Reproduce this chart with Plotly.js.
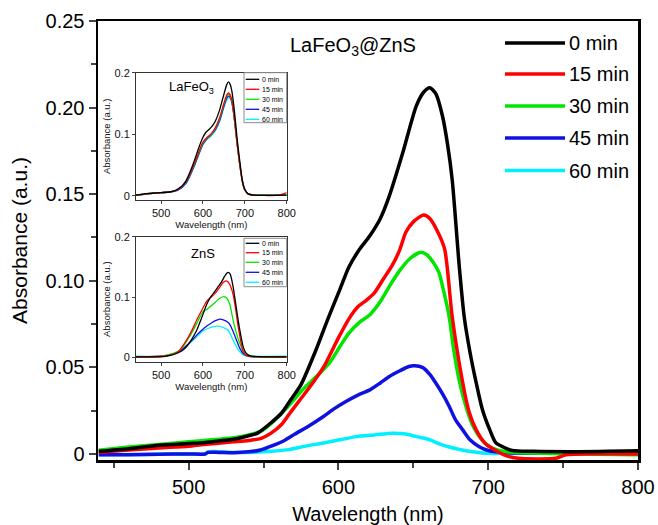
<!DOCTYPE html>
<html><head><meta charset="utf-8">
<script src="https://cdn.plot.ly/plotly-3.0.1.min.js"></script>
<style>html,body{margin:0;padding:0;background:#fff}</style>
</head><body><div id="chart" style="width:658px;height:525px"></div>
<script>
// ---------- data ----------
const seriesNames = ['0 min','15 min','30 min','45 min','60 min'];
const seriesColors = ['#000000','#ff0000','#00e600','#1010e0','#00f0ff'];

// main panel: LaFeO3@ZnS
const mainWl0 = [440,460,480,500,510,520,530,540,546,555,562,568,575,585,593,601,607,614,621,628,634,643,652,657,661,665,669.5,673,676,680.7,684,688,692,696,701,705,710,716,730,760,800];
const mainAbs0 = [0.0015,0.003,0.005,0.006,0.0065,0.0075,0.0085,0.0105,0.012,0.018,0.0235,0.031,0.040,0.060,0.078,0.095,0.108,0.118,0.126,0.136,0.149,0.174,0.201,0.209,0.2115,0.208,0.195,0.178,0.158,0.108,0.079,0.058,0.041,0.026,0.014,0.0065,0.004,0.002,0.0015,0.0013,0.0018];
const mainWl1 = [440,460,480,500,510,520,530,540,548,555,562,568,575,582,590,600,607,613,619,624,630,636,641,645,650,657,661,667,671,676,683,687,692,698,705,712,720,745,752,800];
const mainAbs1 = [0.001,0.0023,0.0035,0.0045,0.0055,0.0062,0.007,0.0078,0.0088,0.012,0.017,0.024,0.032,0.040,0.050,0.067,0.078,0.085,0.089,0.093,0.101,0.109,0.118,0.128,0.134,0.138,0.136,0.127,0.118,0.079,0.041,0.025,0.0139,0.006,0.002,-0.001,-0.0025,-0.0025,-0.0005,0.0];
const mainWl2 = [440,460,480,500,510,520,530,540,548,555,562,568,575,582,588,594,601,607,614,621,628,634,641,648,655,659,663,667,670,674,677,681,686,690,695,701,710,730,800];
const mainAbs2 = [0.0022,0.004,0.0055,0.007,0.0078,0.0085,0.0093,0.011,0.013,0.0175,0.0235,0.029,0.036,0.042,0.047,0.0525,0.062,0.0698,0.076,0.0804,0.088,0.0968,0.106,0.113,0.1164,0.115,0.111,0.105,0.095,0.079,0.060,0.041,0.025,0.0158,0.009,0.0042,0.0015,0.0005,-0.0005];
const mainWl3 = [440,460,480,500,511,513,520,530,540,548,556,564,571,580,590,597,605,613,621,628,634,641,647,651,656,661,665,670,674,678,683,688,694,700,705,720,800];
const mainAbs3 = [-0.0005,-0.0004,-0.0002,0.0,0.0,0.0009,0.0009,0.0007,0.0012,0.0023,0.0048,0.0078,0.0115,0.016,0.0216,0.026,0.0303,0.034,0.037,0.041,0.0447,0.048,0.0505,0.0509,0.050,0.046,0.041,0.034,0.0274,0.020,0.0139,0.008,0.0042,0.002,0.0013,0.0005,0.0005];
const mainWl4 = [440,460,480,500,511,513,530,545,555,567,578,590,600,612,624,636,645,652,660,667,674,680,687,696,710,750,800];
const mainAbs4 = [-0.0004,-0.0003,-0.0002,0.0,0.0,0.0012,0.0009,0.001,0.0015,0.0025,0.0045,0.0063,0.008,0.010,0.011,0.012,0.0115,0.010,0.0085,0.006,0.004,0.0028,0.0015,0.0005,0.0003,0.0005,0.001];

// inset 1: LaFeO3
const lfWl0 = [440,460,480,500,520,530,540,550,560,570,580,590,600,608,615,622,630,640,650,657,661,665,669,673,677,682,688,694,700,708,720,800];
const lfAbs0 = [0.001,0.003,0.004,0.005,0.006,0.0075,0.011,0.016,0.025,0.040,0.058,0.078,0.095,0.104,0.108,0.113,0.122,0.140,0.165,0.181,0.185,0.181,0.170,0.150,0.125,0.090,0.056,0.025,0.010,0.003,0.001,0.001];
const lfWl = [440,480,500,520,540,560,580,600,610,620,630,640,650,657,661,665,669,673,677,682,688,694,700,708,720,780,800];
const lfAbs1 = [0.001,0.004,0.005,0.006,0.010,0.023,0.053,0.087,0.095,0.101,0.111,0.127,0.150,0.164,0.167,0.164,0.155,0.137,0.114,0.082,0.050,0.023,0.009,0.003,0.001,0.001,0.005];
const lfAbs2 = [0.001,0.004,0.005,0.006,0.010,0.023,0.052,0.086,0.094,0.100,0.110,0.126,0.149,0.162,0.165,0.162,0.154,0.136,0.113,0.082,0.050,0.023,0.009,0.003,0.001,0.001,0.001];
const lfAbs3 = [0.001,0.004,0.005,0.006,0.009,0.021,0.050,0.084,0.093,0.099,0.108,0.123,0.146,0.159,0.162,0.160,0.152,0.135,0.113,0.082,0.050,0.024,0.010,0.003,0.001,0.001,0.001];
const lfAbs4 = [0.001,0.004,0.005,0.006,0.009,0.020,0.049,0.083,0.092,0.098,0.106,0.121,0.143,0.156,0.159,0.158,0.151,0.135,0.113,0.083,0.051,0.025,0.010,0.003,0.001,0.001,0.001];

// inset 2: ZnS
const znWl0 = [440,480,500,520,537,550,561,573,585,597,609,618,628,637,645,653,660,665,672,678,684,690,696,702,708,720,800];
const znAbs0 = [0.001,0.001,0.001,0.003,0.0066,0.011,0.018,0.030,0.045,0.066,0.088,0.100,0.109,0.118,0.126,0.136,0.141,0.138,0.117,0.090,0.062,0.038,0.018,0.008,0.004,0.002,0.001];
const znWl1 = [440,500,520,540,561,575,585,600,610,620,630,640,648,655,660,666,672,678,684,690,696,702,710,800];
const znAbs1 = [0.001,0.002,0.004,0.009,0.029,0.047,0.062,0.082,0.094,0.100,0.107,0.116,0.124,0.127,0.125,0.118,0.104,0.080,0.051,0.028,0.010,0.004,0.002,0.001];
const znWl2 = [440,500,520,545,565,585,600,610,617,630,640,650,657,664,672,680,688,696,704,712,730,800];
const znAbs2 = [0.001,0.002,0.005,0.012,0.031,0.056,0.076,0.080,0.084,0.092,0.098,0.1006,0.098,0.088,0.062,0.040,0.023,0.011,0.0066,0.003,0.001,0.001];
const znWl3 = [440,500,520,537,550,561,573,585,597,609,620,630,640,650,658,664,672,680,688,696,704,720,800];
const znAbs3 = [0.001,0.002,0.004,0.0077,0.013,0.020,0.028,0.037,0.045,0.052,0.057,0.061,0.0635,0.062,0.059,0.055,0.043,0.029,0.015,0.0066,0.003,0.001,0.001];
const znWl4 = [440,500,515,529,541,553,565,577,589,600,612,625,636,648,660,668,676,684,692,700,720,800];
const znAbs4 = [0.002,0.002,0.004,0.0055,0.009,0.015,0.022,0.029,0.037,0.044,0.048,0.051,0.052,0.050,0.045,0.035,0.023,0.013,0.0066,0.003,0.002,0.002];

const mainXTicks = [500,600,700,800];
const mainYTickVals = [0,0.05,0.10,0.15,0.20,0.25];
const mainYTickText = ['0','0.05','0.10','0.15','0.20','0.25'];
const insetYTickVals = [0,0.1,0.2];
const insetYTickText = ['0','0.1','0.2'];

// ---------- traces ----------
const FONT = 'Liberation Sans, Arial, Helvetica, sans-serif';
const mainSets = [[mainWl0,mainAbs0],[mainWl1,mainAbs1],[mainWl2,mainAbs2],[mainWl3,mainAbs3],[mainWl4,mainAbs4]];
const lfSets = [[lfWl0,lfAbs0],[lfWl,lfAbs1],[lfWl,lfAbs2],[lfWl,lfAbs3],[lfWl,lfAbs4]];
const znSets = [[znWl0,znAbs0],[znWl1,znAbs1],[znWl2,znAbs2],[znWl3,znAbs3],[znWl4,znAbs4]];
const traces = [];
function addSets(sets, xa, ya, w) {
  for (let i = sets.length - 1; i >= 0; i--) {
    traces.push({x: sets[i][0], y: sets[i][1], xaxis: xa, yaxis: ya, type: 'scatter', mode: 'lines',
      name: seriesNames[i], showlegend: false, hoverinfo: 'skip',
      line: {color: seriesColors[i], width: w, shape: 'spline', smoothing: 0.7}});
  }
}
addSets(mainSets, 'x', 'y', 3.5);
addSets(lfSets, 'x2', 'y2', 1.3);
addSets(znSets, 'x3', 'y3', 1.3);

// ---------- geometry helpers ----------
const PL = 98, PR = 638, PT = 21, PB = 460;
const px2x = p => (p - PL) / (PR - PL);
const py2y = p => (PB - p) / (PB - PT);

const shapes = [], annotations = [];
function legendBlock(rows, x0, x1, xt, fs, lw, box) {
  if (box) shapes.push({type: 'rect', xref: 'paper', yref: 'paper', x0: px2x(box[0]), x1: px2x(box[1]),
    y0: py2y(box[3]), y1: py2y(box[2]), line: {color: '#8a8a8a', width: 1}, fillcolor: '#ffffff', layer: 'above'});
  rows.forEach((ry, i) => {
    shapes.push({type: 'line', xref: 'paper', yref: 'paper', x0: px2x(x0), x1: px2x(x1), y0: py2y(ry), y1: py2y(ry),
      line: {color: seriesColors[i], width: lw}, layer: 'above'});
    annotations.push({xref: 'paper', yref: 'paper', x: px2x(xt), y: py2y(ry), xanchor: 'left', yanchor: 'middle',
      text: seriesNames[i], showarrow: false, font: {family: FONT, size: fs, color: '#000'}});
  });
}
legendBlock([43, 74, 106, 138, 170.5], 505, 565, 567, 20, 3.5, null);
legendBlock([79.3, 89.3, 99.3, 109.3, 119.3], 245.7, 259.3, 259.5, 7, 1.3, [244, 286.7, 72.7, 122.7]);
legendBlock([243.3, 252.7, 262.3, 272.3, 282.3], 245.7, 259.3, 259.5, 7, 1.3, [244, 286.7, 238.3, 286.7]);

annotations.push({xref: 'paper', yref: 'paper', x: px2x(288), y: py2y(46), xanchor: 'left', yanchor: 'middle',
  text: 'LaFeO<sub>3</sub>@ZnS', showarrow: false, font: {family: FONT, size: 20, color: '#000'}});
annotations.push({xref: 'paper', yref: 'paper', x: px2x(167), y: py2y(88), xanchor: 'left', yanchor: 'middle',
  text: 'LaFeO<sub>3</sub>', showarrow: false, font: {family: FONT, size: 13, color: '#000'}});
annotations.push({xref: 'paper', yref: 'paper', x: px2x(203), y: py2y(253), xanchor: 'center', yanchor: 'middle',
  text: 'ZnS', showarrow: false, font: {family: FONT, size: 13, color: '#000'}});

function insetX(anchor, domain) {
  return {anchor: anchor, domain: domain, range: [440, 800], tickvals: mainXTicks, ticks: 'outside', ticklen: 3, tickwidth: 1,
    showline: true, mirror: true, linecolor: '#333', linewidth: 1, showgrid: false, zeroline: false,
    tickfont: {family: FONT, size: 11, color: '#111'},
    title: {text: 'Wavelength (nm)', font: {family: FONT, size: 9.5, color: '#111'}, standoff: 2}};
}
function insetY(anchor, domain) {
  return {anchor: anchor, domain: domain, range: [-0.007, 0.2], tickvals: insetYTickVals, ticktext: insetYTickText,
    ticks: 'outside', ticklen: 3, tickwidth: 1, showline: true, mirror: true, linecolor: '#333', linewidth: 1,
    showgrid: false, zeroline: false, tickfont: {family: FONT, size: 11, color: '#111'},
    title: {text: 'Absorbance (a.u.)', font: {family: FONT, size: 9.5, color: '#111'}, standoff: 2}};
}

const layout = {
  width: 658, height: 525, margin: {l: PL, r: 658 - PR, t: PT, b: 525 - PB},
  paper_bgcolor: '#fff', plot_bgcolor: '#fff', showlegend: false,
  font: {family: FONT, color: '#000'},
  xaxis: {range: [439.5, 800], tickvals: mainXTicks, ticks: 'outside', ticklen: 7, tickwidth: 2,
    minor: {tickvals: [450, 550, 650, 750], ticklen: 5, tickwidth: 2, ticks: 'outside'},
    showline: true, mirror: true, linecolor: '#000', linewidth: 2.5, showgrid: false, zeroline: false,
    tickfont: {family: FONT, size: 20, color: '#000'},
    title: {text: 'Wavelength (nm)', font: {family: FONT, size: 20, color: '#000'}, standoff: 15}},
  yaxis: {range: [-0.0035, 0.25], tickvals: mainYTickVals, ticktext: mainYTickText, ticks: 'outside', ticklen: 7, tickwidth: 2,
    minor: {tickvals: [0.025, 0.075, 0.125, 0.175, 0.225], ticklen: 5, tickwidth: 2, ticks: 'outside'},
    showline: true, mirror: true, linecolor: '#000', linewidth: 2.5, showgrid: false, zeroline: false,
    tickfont: {family: FONT, size: 20, color: '#000'},
    title: {text: 'Absorbance (a.u.)', font: {family: FONT, size: 21, color: '#000'}, standoff: 12}},
  xaxis2: insetX('y2', [px2x(136), px2x(286.7)]),
  yaxis2: insetY('x2', [py2y(200), py2y(72.7)]),
  xaxis3: insetX('y3', [px2x(136), px2x(286.7)]),
  yaxis3: insetY('x3', [py2y(361.7), py2y(236.7)]),
  shapes: shapes, annotations: annotations
};
Plotly.newPlot('chart', traces, layout, {staticPlot: true, displayModeBar: false});
</script></body></html>
